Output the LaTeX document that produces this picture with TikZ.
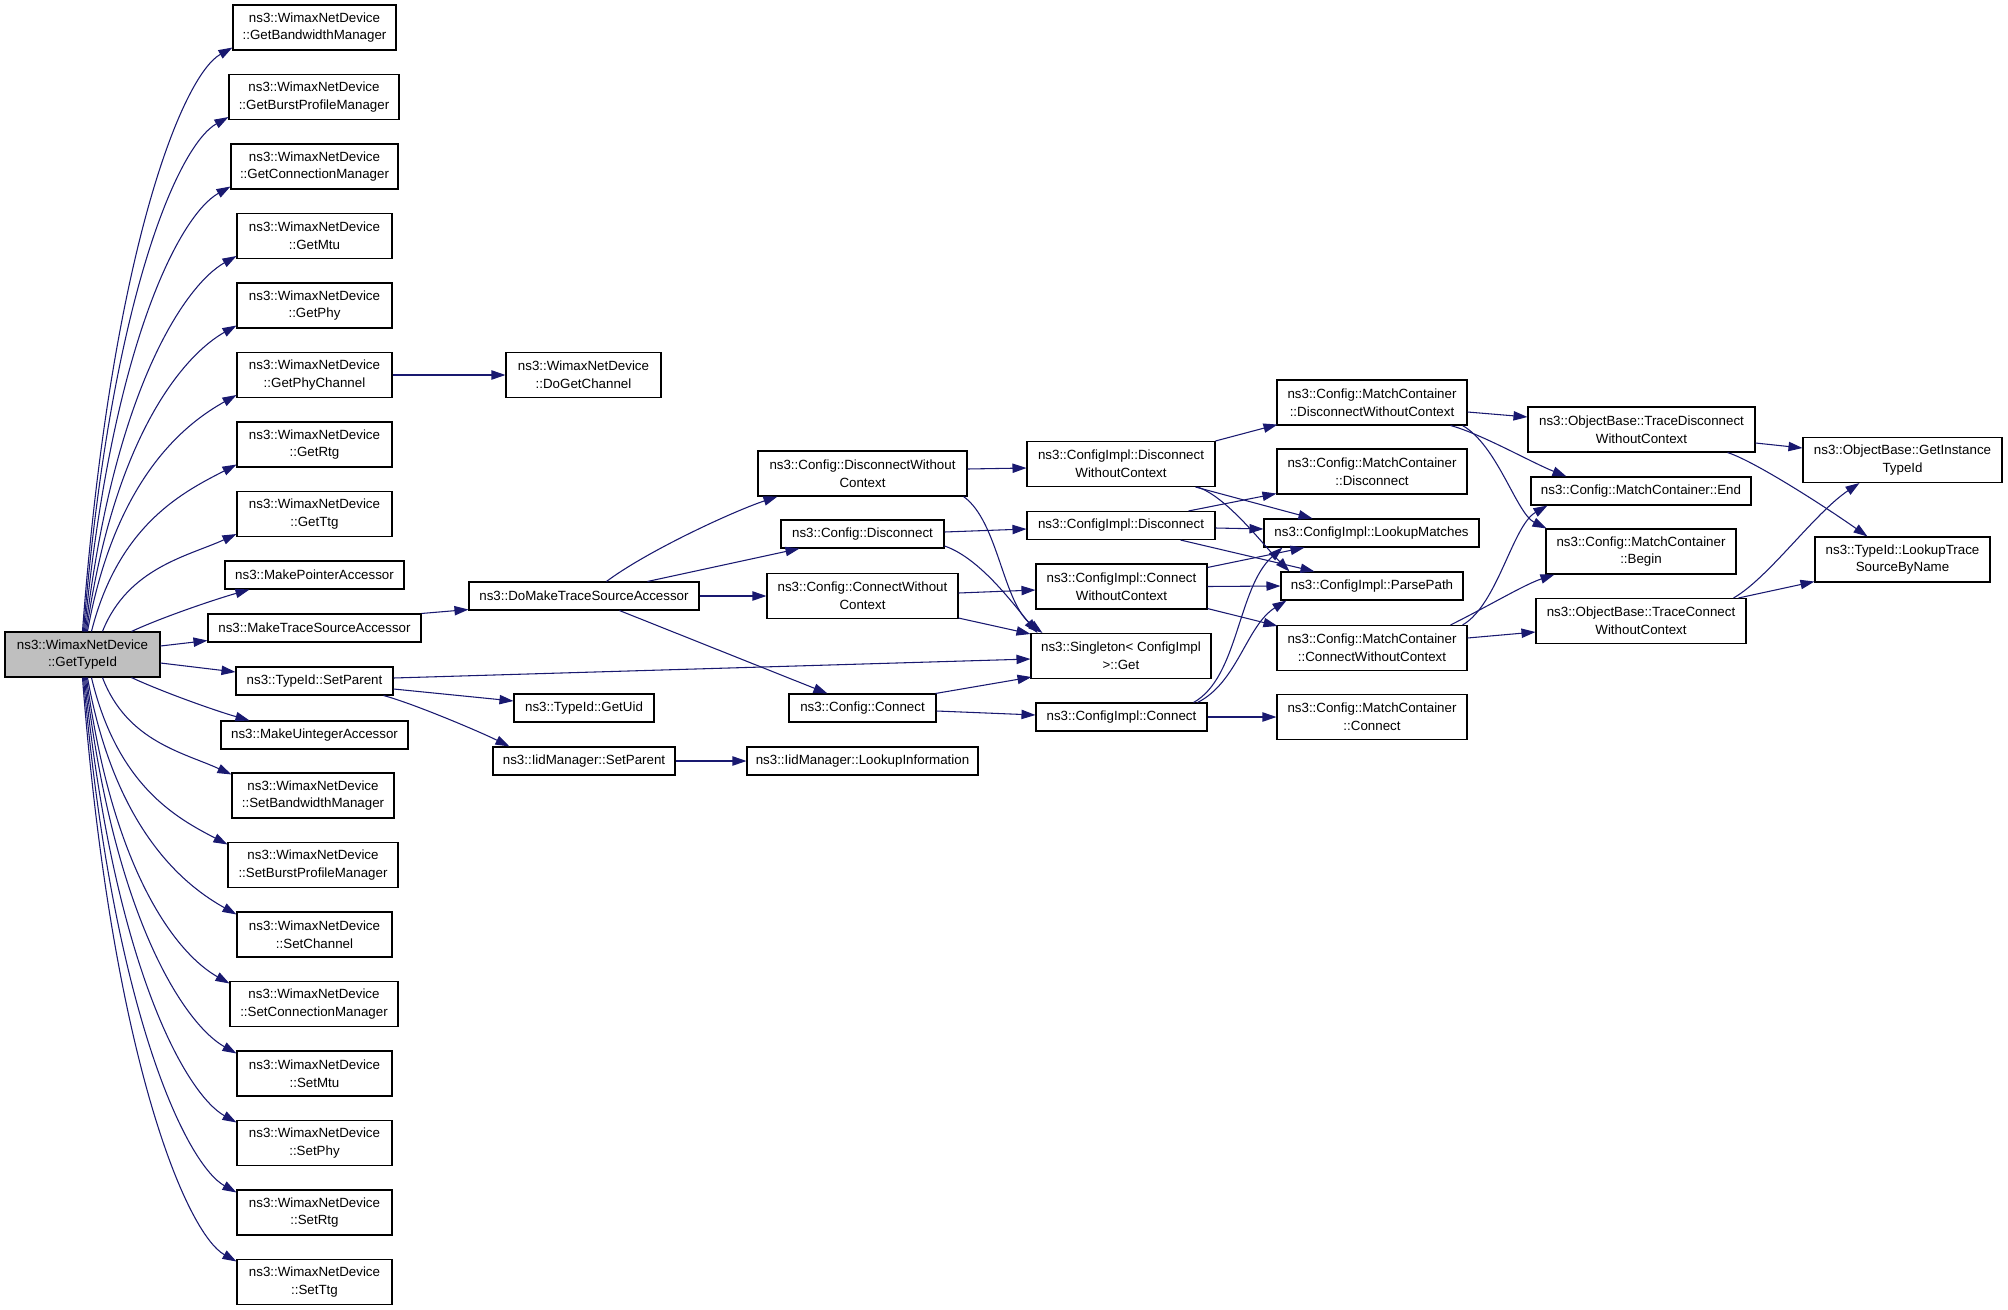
\documentclass[tikz,border=0pt]{standalone}
\usepackage{fontspec}
\setmainfont{Liberation Sans}
\usetikzlibrary{calc,arrows.meta}
\definecolor{edgeblue}{HTML}{191970}
\definecolor{rootgray}{HTML}{BFBFBF}
\tikzset{
  box/.style={draw=black, line width=0.8pt, fill=white, inner sep=0pt, align=center,
              font=\fontsize{10}{13.3}\selectfont},
  bw/.style={minimum width=#1*0.75pt},
  bh/.style={minimum height=#1*0.75pt},
  edge/.style={draw=edgeblue, line width=0.8pt,
               -{Triangle[length=10.5pt,width=7pt]}, shorten >=0pt}
}
\begin{document}
\begin{tikzpicture}[x=0.75pt, y=-0.75pt]
\fill[white] (0,0) rectangle (2008,1309);
\useasboundingbox (0,0) rectangle (2008,1309);

% ---------- nodes ----------
\node[box, fill=rootgray, bw=155, bh=45] (GT) at (82.5,654.5) {ns3::WimaxNetDevice\\::GetTypeId};

\node[box, bw=163, bh=45] (GBM)  at (314.5,27.5)  {ns3::WimaxNetDevice\\::GetBandwidthManager};
\node[box, bw=170, bh=45] (GBPM) at (314,97)      {ns3::WimaxNetDevice\\::GetBurstProfileManager};
\node[box, bw=167, bh=45] (GCM)  at (314.5,166.5) {ns3::WimaxNetDevice\\::GetConnectionManager};
\node[box, bw=155, bh=45] (GMtu) at (314.5,236)   {ns3::WimaxNetDevice\\::GetMtu};
\node[box, bw=155, bh=45] (GPhy) at (314.5,305.5) {ns3::WimaxNetDevice\\::GetPhy};
\node[box, bw=155, bh=45] (GPC)  at (314.5,375)   {ns3::WimaxNetDevice\\::GetPhyChannel};
\node[box, bw=155, bh=45] (GRtg) at (314.5,444.5) {ns3::WimaxNetDevice\\::GetRtg};
\node[box, bw=155, bh=45] (GTtg) at (314.5,514)   {ns3::WimaxNetDevice\\::GetTtg};
\node[box, bw=179, bh=28] (MPA)  at (314.5,575)   {ns3::MakePointerAccessor};
\node[box, bw=213, bh=28] (MTSA) at (314.5,628)   {ns3::MakeTraceSourceAccessor};
\node[box, bw=157, bh=28] (TSP)  at (314.5,681)   {ns3::TypeId::SetParent};
\node[box, bw=187, bh=28] (MUA)  at (314.5,735)   {ns3::MakeUintegerAccessor};
\node[box, bw=162, bh=45] (SBM)  at (313,795.5)   {ns3::WimaxNetDevice\\::SetBandwidthManager};
\node[box, bw=170, bh=45] (SBPM) at (313,865)     {ns3::WimaxNetDevice\\::SetBurstProfileManager};
\node[box, bw=155, bh=45] (SC)   at (314.5,934.5) {ns3::WimaxNetDevice\\::SetChannel};
\node[box, bw=168, bh=45] (SCM)  at (314,1004)    {ns3::WimaxNetDevice\\::SetConnectionManager};
\node[box, bw=155, bh=45] (SMtu) at (314.5,1073.5){ns3::WimaxNetDevice\\::SetMtu};
\node[box, bw=155, bh=45] (SPhy) at (314.5,1143)  {ns3::WimaxNetDevice\\::SetPhy};
\node[box, bw=155, bh=45] (SRtg) at (314.5,1212.5){ns3::WimaxNetDevice\\::SetRtg};
\node[box, bw=155, bh=45] (STtg) at (314.5,1282)  {ns3::WimaxNetDevice\\::SetTtg};

\node[box, bw=155, bh=45] (DGC)   at (583.5,375) {ns3::WimaxNetDevice\\::DoGetChannel};
\node[box, bw=230, bh=28] (DMTSA) at (584,596)   {ns3::DoMakeTraceSourceAccessor};
\node[box, bw=140, bh=28] (GUID)  at (584,708)   {ns3::TypeId::GetUid};
\node[box, bw=182, bh=28] (ISP)   at (584,761)   {ns3::IidManager::SetParent};

\node[box, bw=209, bh=45] (CDWC) at (862.5,473.5) {ns3::Config::DisconnectWithout\\Context};
\node[box, bw=163, bh=28] (CD)   at (862.5,534)   {ns3::Config::Disconnect};
\node[box, bw=191, bh=45] (CCWC) at (862.5,596)   {ns3::Config::ConnectWithout\\Context};
\node[box, bw=147, bh=28] (CC)   at (862.5,708)   {ns3::Config::Connect};
\node[box, bw=231, bh=28] (ILI)  at (862.5,761)   {ns3::IidManager::LookupInformation};

\node[box, bw=188, bh=45] (IDWC) at (1121,464)    {ns3::ConfigImpl::Disconnect\\WithoutContext};
\node[box, bw=188, bh=28] (ID)   at (1121,525.5)  {ns3::ConfigImpl::Disconnect};
\node[box, bw=171, bh=45] (ICWC) at (1121.5,586.5){ns3::ConfigImpl::Connect\\WithoutContext};
\node[box, bw=180, bh=45] (SG)   at (1121,656)    {ns3::Singleton< ConfigImpl\\ >::Get};
\node[box, bw=171, bh=28] (IC)   at (1121.5,717)  {ns3::ConfigImpl::Connect};

\node[box, bw=190, bh=45] (MDWC) at (1372,402.5)  {ns3::Config::MatchContainer\\::DisconnectWithoutContext};
\node[box, bw=190, bh=45] (MD)   at (1372,471.5)  {ns3::Config::MatchContainer\\::Disconnect};
\node[box, bw=215, bh=28] (LM)   at (1371.5,533)  {ns3::ConfigImpl::LookupMatches};
\node[box, bw=182, bh=28] (PP)   at (1372,586)    {ns3::ConfigImpl::ParsePath};
\node[box, bw=190, bh=45] (MCWC) at (1372,648)    {ns3::Config::MatchContainer\\::ConnectWithoutContext};
\node[box, bw=190, bh=45] (MC)   at (1372,717)    {ns3::Config::MatchContainer\\::Connect};

\node[box, bw=227, bh=45] (TDWC) at (1641.5,429.5){ns3::ObjectBase::TraceDisconnect\\WithoutContext};
\node[box, bw=220, bh=28] (ME)   at (1641,491)    {ns3::Config::MatchContainer::End};
\node[box, bw=190, bh=45] (MB)   at (1641,551.5)  {ns3::Config::MatchContainer\\::Begin};
\node[box, bw=210, bh=45] (TCWC) at (1641,621)    {ns3::ObjectBase::TraceConnect\\WithoutContext};

\node[box, bw=199, bh=45] (GIT)  at (1902.5,460)  {ns3::ObjectBase::GetInstance\\TypeId};
\node[box, bw=175, bh=45] (LTS)  at (1902.5,559.5){ns3::TypeId::LookupTrace\\SourceByName};

% ---------- edges from GetTypeId (upper) ----------
\draw[edge] ($(GT.north west)+(78,0)$) .. controls +(28.5,-380) and +(-50,28) .. ($(GBM.south west)+(0,-3)$);
\draw[edge] ($(GT.north west)+(79,0)$) .. controls +(27.5,-335) and +(-50,28) .. ($(GBPM.south west)+(0,-3)$);
\draw[edge] ($(GT.north west)+(80,0)$) .. controls +(27.7,-290) and +(-50,28) .. ($(GCM.south west)+(0,-3)$);
\draw[edge] ($(GT.north west)+(81,0)$) .. controls +(28.7,-245) and +(-50,28) .. ($(GMtu.south west)+(0,-3)$);
\draw[edge] ($(GT.north west)+(82,0)$) .. controls +(28.5,-200) and +(-50,28) .. ($(GPhy.south west)+(0,-3)$);
\draw[edge] ($(GT.north west)+(83,0)$) .. controls +(28,-155) and +(-50,28) .. ($(GPC.south west)+(0,-3)$);
\draw[edge] ($(GT.north west)+(87,0)$) .. controls +(27.5,-109) and +(-50,26) .. ($(GRtg.south west)+(0,-3)$);
\draw[edge] ($(GT.north west)+(98,0)$) .. controls +(25.5,-64) and +(-48,22) .. ($(GTtg.south west)+(0,-3)$);
\draw[edge] ($(GT.north west)+(127,0)$) .. controls +(30,-14) and +(-35,10) .. ($(MPA.south west)+(25,0)$);
\draw[edge] ($(GT.east)+(0,-8.5)$) -- ($(MTSA.south west)+(0,-2)$);
\draw[edge] ($(GT.east)+(0,8.5)$) -- ($(TSP.west)+(0,-9)$);
% ---------- edges from GetTypeId (lower) ----------
\draw[edge] ($(GT.south west)+(127,0)$) .. controls +(30,14) and +(-35,-10) .. ($(MUA.north west)+(29,0)$);
\draw[edge] ($(GT.south west)+(98,0)$) .. controls +(24.5,64) and +(-48,-22) .. ($(SBM.north west)+(0,2)$);
\draw[edge] ($(GT.south west)+(87,0)$) .. controls +(26,109) and +(-50,-26) .. ($(SBPM.north west)+(0,2.5)$);
\draw[edge] ($(GT.south west)+(83,0)$) .. controls +(28,155) and +(-50,-28) .. ($(SC.north west)+(0,3)$);
\draw[edge] ($(GT.south west)+(82,0)$) .. controls +(27,200) and +(-50,-28) .. ($(SCM.north west)+(0,2.5)$);
\draw[edge] ($(GT.south west)+(81,0)$) .. controls +(28.7,245) and +(-50,-28) .. ($(SMtu.north west)+(0,3)$);
\draw[edge] ($(GT.south west)+(80,0)$) .. controls +(29,290) and +(-50,-28) .. ($(SPhy.north west)+(0,2.5)$);
\draw[edge] ($(GT.south west)+(79,0)$) .. controls +(29,335) and +(-50,-28) .. ($(SRtg.north west)+(0,3)$);
\draw[edge] ($(GT.south west)+(78,0)$) .. controls +(29,380) and +(-50,-28) .. ($(STtg.north west)+(0,2.5)$);

% ---------- second level ----------
\draw[edge] (GPC.east) -- (DGC.west);
\draw[edge] (MTSA.north east) -- ($(DMTSA.south west)+(0,-1)$);
\draw[edge] ($(TSP.east)+(0,-3)$) -- ($(SG.west)+(0,3)$);
\draw[edge] ($(TSP.east)+(0,8)$) -- ($(GUID.west)+(0,-7)$);
\draw[edge] ($(TSP.south east)+(-10,0)$) .. controls +(30,8) and +(-28,-14) .. ($(ISP.north west)+(17,0)$);
\draw[edge] (ISP.east) -- (ILI.west);

\draw[edge] ($(DMTSA.north west)+(138,0)$) .. controls +(40,-30) and +(-45,15) .. ($(CDWC.south west)+(20,0)$);
\draw[edge] ($(DMTSA.north west)+(179,0)$) -- ($(CD.south west)+(19,0)$);
\draw[edge] (DMTSA.east) -- (CCWC.west);
\draw[edge] ($(DMTSA.south west)+(151,0)$) -- ($(CC.north west)+(39,0)$);

\draw[edge] ($(CDWC.east)+(0,-4.5)$) -- ($(IDWC.west)+(0,4)$);
\draw[edge] ($(CDWC.south east)+(-4,0)$) .. controls +(35,25) and +(-40,-30) .. ($(SG.north west)+(12,0)$);
\draw[edge] ($(CD.east)+(0,-2)$) -- ($(ID.west)+(0,3.5)$);
\draw[edge] ($(CD.east)+(0,12)$) .. controls +(35,12) and +(-25,-30) .. ($(SG.north west)+(7,0)$);
\draw[edge] ($(CCWC.east)+(0,-3)$) -- ($(ICWC.west)+(0,3.5)$);
\draw[edge] ($(CCWC.south east)+(0,-1)$) -- ($(SG.north west)+(0,1)$);
\draw[edge] ($(CC.north east)+(-1,0)$) -- ($(SG.south west)+(1,-2)$);
\draw[edge] ($(CC.east)+(0,3)$) -- ($(IC.west)+(0,-2)$);

\draw[edge] (IDWC.north east) -- ($(MDWC.south west)+(1,-1)$);
\draw[edge] ($(IDWC.south east)+(-20,0)$) -- ($(LM.north west)+(49,0)$);
\draw[edge] ($(IDWC.south east)+(-18,0)$) .. controls +(30,10) and +(-25,-25) .. ($(PP.north west)+(9,0)$);
\draw[edge] ($(ID.north east)+(-27,0)$) -- ($(MD.south west)+(0,-1)$);
\draw[edge] ($(ID.east)+(0,2.5)$) -- ($(LM.west)+(0,-4)$);
\draw[edge] ($(ID.south east)+(-35,0)$) -- ($(PP.north west)+(34,0)$);
\draw[edge] ($(ICWC.north east)+(0,4)$) -- ($(LM.south west)+(41,0)$);
\draw[edge] (ICWC.east) -- (PP.west);
\draw[edge] ($(ICWC.south east)+(0,-1)$) -- ($(MCWC.north west)+(1,1)$);
\draw[edge] ($(IC.north east)+(-14,0)$) .. controls +(45,-25) and +(-45,40) .. ($(LM.south west)+(19,0)$);
\draw[edge] ($(IC.north east)+(-10,0)$) .. controls +(40,-20) and +(-40,25) .. ($(PP.south west)+(6,0)$);
\draw[edge] (IC.east) -- (MC.west);

\draw[edge] ($(MDWC.east)+(0,9.5)$) -- ($(TDWC.west)+(0,-12.5)$);
\draw[edge] ($(MDWC.south east)+(-17,0)$) .. controls +(30,8) and +(-35,-14) .. ($(ME.north west)+(36,0)$);
\draw[edge] ($(MDWC.south east)+(-5,0)$) .. controls +(35,20) and +(-30,-15) .. ($(MB.north west)+(1,0)$);
\draw[edge] ($(MCWC.north east)+(-5,0)$) .. controls +(35,-20) and +(-35,20) .. ($(ME.south west)+(17,0)$);
\draw[edge] ($(MCWC.north east)+(-17,0)$) .. controls +(40,-20) and +(-30,10) .. ($(MB.south west)+(9,0)$);
\draw[edge] ($(MCWC.east)+(0,-10)$) -- ($(TCWC.west)+(0,11)$);

\draw[edge] ($(TDWC.east)+(0,13.5)$) -- ($(GIT.west)+(0,-12)$);
\draw[edge] ($(TDWC.south east)+(-28,0)$) .. controls +(25,8) and +(-50,-35) .. ($(LTS.north west)+(53,0)$);
\draw[edge] ($(TCWC.north east)+(-13,0)$) .. controls +(35,-20) and +(-45,30) .. ($(GIT.south west)+(57,0)$);
\draw[edge] ($(TCWC.north east)+(-8,0)$) -- ($(LTS.south west)+(0,-1)$);
\end{tikzpicture}
\end{document}
